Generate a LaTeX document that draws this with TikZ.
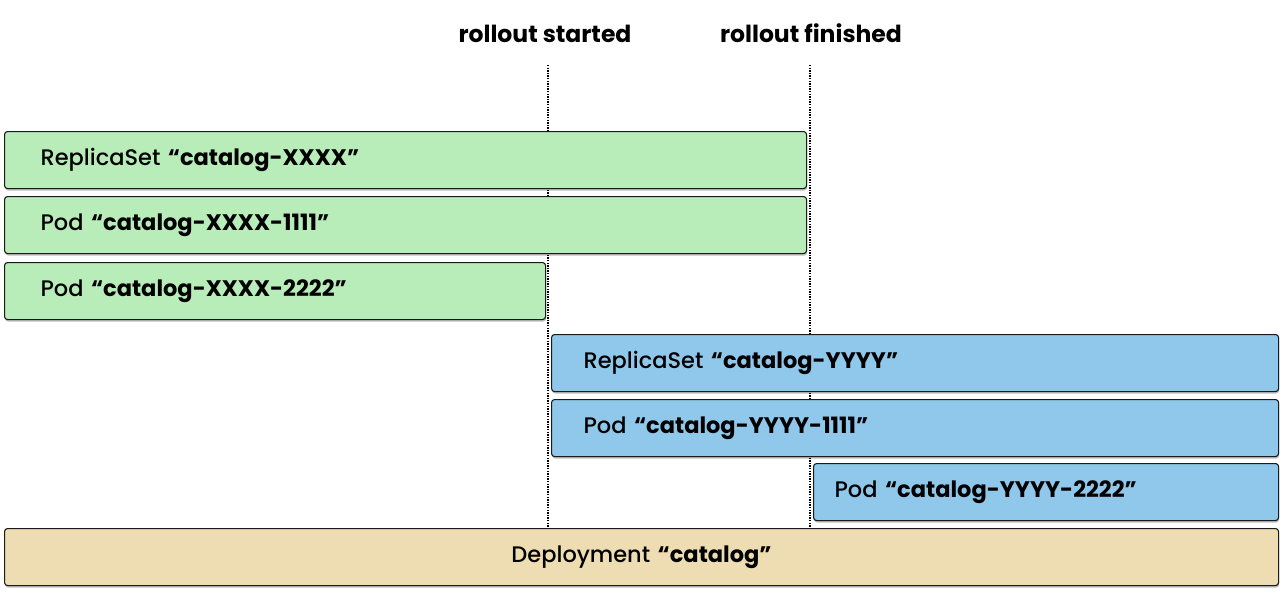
\documentclass[tikz,border=0pt]{standalone}
\usepackage{fontspec}
\setmainfont{Poppins}[UprightFont={* Medium}, BoldFont={* Bold}]
\usetikzlibrary{shadows}
\definecolor{gfill}{HTML}{B8EDB9}
\definecolor{bfill}{HTML}{90C8EB}
\definecolor{tfill}{HTML}{EEDDB2}
\definecolor{edge}{HTML}{1A1A1A}
\tikzset{
  box/.style={draw=edge, line width=1.1pt, rounded corners=3pt, anchor=north west,
    minimum height=57pt, inner ysep=0pt, align=left,
    font=\fontsize{22.5}{26}\selectfont,
    drop shadow={shadow xshift=0.6pt, shadow yshift=-2pt, opacity=0.25, fill=black}},
  gbox/.style={box, fill=gfill},
  bbox/.style={box, fill=bfill},
  tbox/.style={box, fill=tfill, align=center},
  title/.style={font=\fontsize{23.5}{27}\selectfont\bfseries, anchor=base},
  marker/.style={line width=1.4pt, dash pattern=on 1.4pt off 1.2pt, draw=black}
}
\begin{document}
\begin{tikzpicture}[x=1pt,y=-1pt]
\useasboundingbox (0,0) rectangle (1282,594);
\node[title] (t1) at (545,43) {rollout started};
\node[title] (t2) at (811,43) {rollout finished};
\coordinate (s1) at (548,65);
\coordinate (e1) at (548,527);
\coordinate (s2) at (810,65);
\coordinate (e2) at (810,527);
\draw[marker] (s1) -- (e1);
\draw[marker] (s2) -- (e2);
\node[gbox, inner xsep=36pt, text width=802pt-72pt] (rsx) at (4,131) {ReplicaSet \textbf{“catalog-XXXX”}};
\node[gbox, inner xsep=36pt, text width=802pt-72pt] (px1) at (4,196) {Pod \textbf{“catalog-XXXX-1111”}};
\node[gbox, inner xsep=36pt, text width=541pt-72pt] (px2) at (4,262) {Pod \textbf{“catalog-XXXX-2222”}};
\node[bbox, inner xsep=32pt, text width=727pt-64pt] (rsy) at (551,334) {ReplicaSet \textbf{“catalog-YYYY”}};
\node[bbox, inner xsep=32pt, text width=727pt-64pt] (py1) at (551,399) {Pod \textbf{“catalog-YYYY-1111”}};
\node[bbox, inner xsep=21pt, text width=465pt-42pt] (py2) at (813,463) {Pod \textbf{“catalog-YYYY-2222”}};
\node[tbox, inner xsep=10pt, text width=1274pt-20pt] (dep) at (4,528) {Deployment \textbf{“catalog”}};
\end{tikzpicture}
\end{document}
